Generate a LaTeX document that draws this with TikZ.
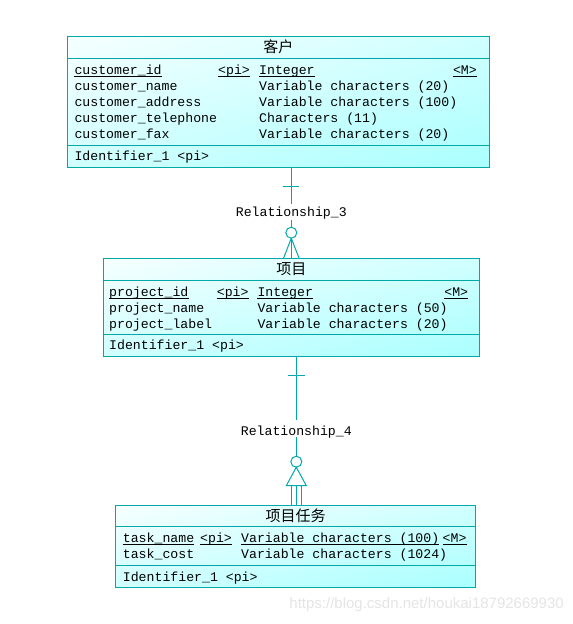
\documentclass[tikz,border=0pt]{standalone}
\usepackage{fontspec}
\usetikzlibrary{shadings}
\setmonofont{Liberation Mono}
\setsansfont{Liberation Sans}
\newfontfamily\cjk{Noto Sans CJK SC}
\definecolor{tealc}{RGB}{0,168,168}
\definecolor{cyA}{RGB}{246,255,255}
\definecolor{cyB}{RGB}{208,255,255}
\definecolor{cyC}{RGB}{170,255,255}
\begin{document}
\begin{tikzpicture}[x=1pt,y=-1pt,
  entity/.style={draw=tealc, line width=1pt, shade, upper left=cyA, upper right=cyB,
    lower left=cyB, lower right=cyC, inner sep=0pt, outer sep=0pt},
  txt/.style={font=\ttfamily\fontsize{13.2}{16}\selectfont, inner sep=0pt, anchor=base west},
  txte/.style={txt, anchor=base east},
  ttl/.style={font=\cjk\fontsize{15}{15}\selectfont, inner sep=0pt},
  rel/.style={font=\ttfamily\fontsize{13.2}{16}\selectfont, inner sep=0pt, anchor=base},
  conn/.style={draw=tealc, line width=1pt},
  ul/.style={draw=black, line width=0.8pt}]
\useasboundingbox (0,0) rectangle (573,624);
\fill[white] (0,0) rectangle (573,624);

% ---------- Entity 1 ----------
\node[entity, minimum width=422pt, minimum height=131pt] (e1) at (278.3,101.5) {};
\draw[conn] (e1.west |- 0,58.3) -- (e1.east |- 0,58.3);
\draw[conn] (e1.west |- 0,145.7) -- (e1.east |- 0,145.7);
\node[ttl] (t1) at (278.3,47) {客户};
\node[txt] (a11) at (74.3,74) {customer\_id};
\node[txt] (a12) at (218,74) {<pi>};
\node[txt] (a13) at (259,74) {Integer};
\node[txte] (a14) at (477,74) {<M>};
\foreach \n in {a11,a12,a13,a14}{\draw[ul] ([yshift=-2pt]\n.base west) -- ([yshift=-2pt]\n.base east);}
\node[txt] (a21) at (74.3,90) {customer\_name};
\node[txt] (a22) at (259,90) {Variable characters (20)};
\node[txt] (a31) at (74.3,106) {customer\_address};
\node[txt] (a32) at (259,106) {Variable characters (100)};
\node[txt] (a41) at (74.3,122) {customer\_telephone};
\node[txt] (a42) at (259,122) {Characters (11)};
\node[txt] (a51) at (74.3,138) {customer\_fax};
\node[txt] (a52) at (259,138) {Variable characters (20)};
\node[txt] (i1) at (74.3,160.7) {Identifier\_1 <pi>};

% ---------- Entity 2 ----------
\node[entity, minimum width=376pt, minimum height=98pt] (e2) at (291.3,307.3) {};
\draw[conn] (e2.west |- 0,280.3) -- (e2.east |- 0,280.3);
\draw[conn] (e2.west |- 0,334.3) -- (e2.east |- 0,334.3);
\node[ttl] (t2) at (291.3,269) {项目};
\node[txt] (b11) at (109,296) {project\_id};
\node[txt] (b12) at (216.7,296) {<pi>};
\node[txt] (b13) at (257.3,296) {Integer};
\node[txte] (b14) at (468.3,296) {<M>};
\foreach \n in {b11,b12,b13,b14}{\draw[ul] ([yshift=-2pt]\n.base west) -- ([yshift=-2pt]\n.base east);}
\node[txt] (b21) at (109,312) {project\_name};
\node[txt] (b22) at (257.3,312) {Variable characters (50)};
\node[txt] (b31) at (109,328) {project\_label};
\node[txt] (b32) at (257.3,328) {Variable characters (20)};
\node[txt] (i2) at (109,349.5) {Identifier\_1 <pi>};

% ---------- Entity 3 ----------
\node[entity, minimum width=360.4pt, minimum height=81.6pt] (e3) at (295.5,546.5) {};
\draw[conn] (e3.west |- 0,526.7) -- (e3.east |- 0,526.7);
\draw[conn] (e3.west |- 0,565.7) -- (e3.east |- 0,565.7);
\node[ttl] (t3) at (295.5,516) {项目任务};
\node[txt] (c11) at (122.7,542.7) {task\_name};
\node[txt] (c12) at (200,542.7) {<pi>};
\node[txt] (c13) at (241,542.7) {Variable characters (100)};
\node[txte] (c14) at (466.7,542.7) {<M>};
\foreach \n in {c11,c12,c13,c14}{\draw[ul] ([yshift=-2pt]\n.base west) -- ([yshift=-2pt]\n.base east);}
\node[txt] (c21) at (122.7,558.7) {task\_cost};
\node[txt] (c22) at (241,558.7) {Variable characters (1024)};
\node[txt] (i3) at (122.7,581) {Identifier\_1 <pi>};

% ---------- Relationship_3 ----------
\node[rel] (r3) at (291.3,216.5) {Relationship\_3};
\coordinate (r3top) at (291.3,203.5);
\coordinate (r3bot) at (291.3,220);
\coordinate (o3) at (291.3,232.7);
\coordinate (o3b) at (291.3,238.2);
\draw[conn] (r3top |- e1.south) -- (r3top);
\draw[conn] (283.3,186) -- (299.3,186);
\draw[conn] (r3bot) -- (291.3,227.2);
\draw[conn] (o3) circle[radius=5.5pt];
\draw[conn] (o3b) -- (283.5,0 |- e2.north);
\draw[conn] (o3b) -- (o3b |- e2.north);
\draw[conn] (o3b) -- (299.1,0 |- e2.north);

% ---------- Relationship_4 ----------
\node[rel] (r4) at (296.3,435) {Relationship\_4};
\coordinate (r4top) at (296.3,420);
\coordinate (r4bot) at (296.3,437);
\coordinate (o4) at (296.3,461.7);
\draw[conn] (r4top |- e2.south) -- (r4top);
\draw[conn] (288,375.3) -- (304.7,375.3);
\draw[conn] (r4bot) -- (296.3,456.2);
\draw[conn] (o4) circle[radius=5.5pt];
\draw[conn] (296.3,467.2) -- (286.3,485.7) -- (306.3,485.7) -- cycle;
\draw[conn] (291.3,485.7) -- (291.3,0 |- e3.north);
\draw[conn] (296.3,485.7) -- (296.3,0 |- e3.north);
\draw[conn] (301.3,485.7) -- (301.3,0 |- e3.north);

% ---------- watermark ----------
\node[font=\sffamily\fontsize{15}{15}\selectfont, text=black!10, inner sep=0pt, anchor=east] (wm) at (564,605) {https://blog.csdn.net/houkai18792669930};
\end{tikzpicture}
\end{document}
